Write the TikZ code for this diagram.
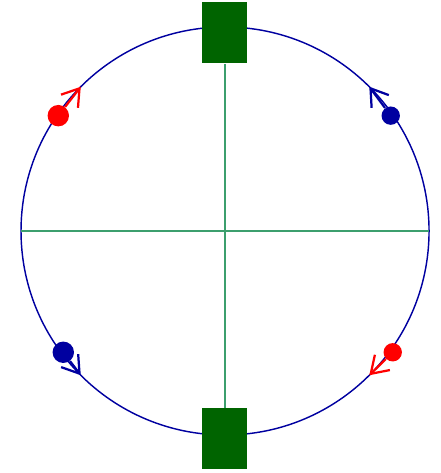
\documentclass[tikz,border=0pt]{standalone}
\definecolor{ringblue}{HTML}{0000A0}
\definecolor{axisgreen}{HTML}{3C9F6E}
\definecolor{padgreen}{HTML}{006400}
\usetikzlibrary{arrows.meta,positioning,calc}

\begin{document}
\begin{tikzpicture}[
 ring/.style={draw=ringblue,line width=0.8pt},
 axis/.style={draw=axisgreen,line width=1.1pt},
 pad/.style={fill=padgreen,minimum width=0.88cm,minimum height=1.2cm,%
   inner sep=0pt},
 charge/.style={circle,inner sep=0pt,minimum size=#1},
 arr/.style={-{Straight Barb[length=3.2mm,width=4.2mm]},line width=1.25pt}]
\useasboundingbox (-4.412,-4.745) rectangle (4.216,4.529);
\draw[ring] (0,0) circle (4);
\coordinate (west) at (180:4);%
\coordinate (east) at (0:4);
\draw[axis] (west)--(east);
\node[pad] (top) at (-0.01,3.885) {};
\node[pad] (bottom) at (-0.01,-4.075) {};
\draw[axis] (top.south)--(bottom.north);
% charges and their arrows
\node[charge=4.2mm,fill=red] (qa) at (-3.269,2.261) {};
\node[charge=3.6mm,fill=ringblue] (qb) at (3.249,2.261) {};
\node[charge=4.2mm,fill=ringblue] (qc) at (-3.171,-2.378) {};
\node[charge=3.6mm,fill=red] (qd) at (3.288,-2.378) {};
\coordinate (ta) at (135:4);%
\coordinate (tb) at (45:4);
\coordinate (tc) at (225:4);%
\coordinate (td) at (315:4);
\draw[arr,red] (qa)--(ta);
\draw[arr,ringblue] (qb)--(tb);
\draw[arr,ringblue] (qc)--(tc);
\draw[arr,red] (qd)--(td);
\end{tikzpicture}
\end{document}
